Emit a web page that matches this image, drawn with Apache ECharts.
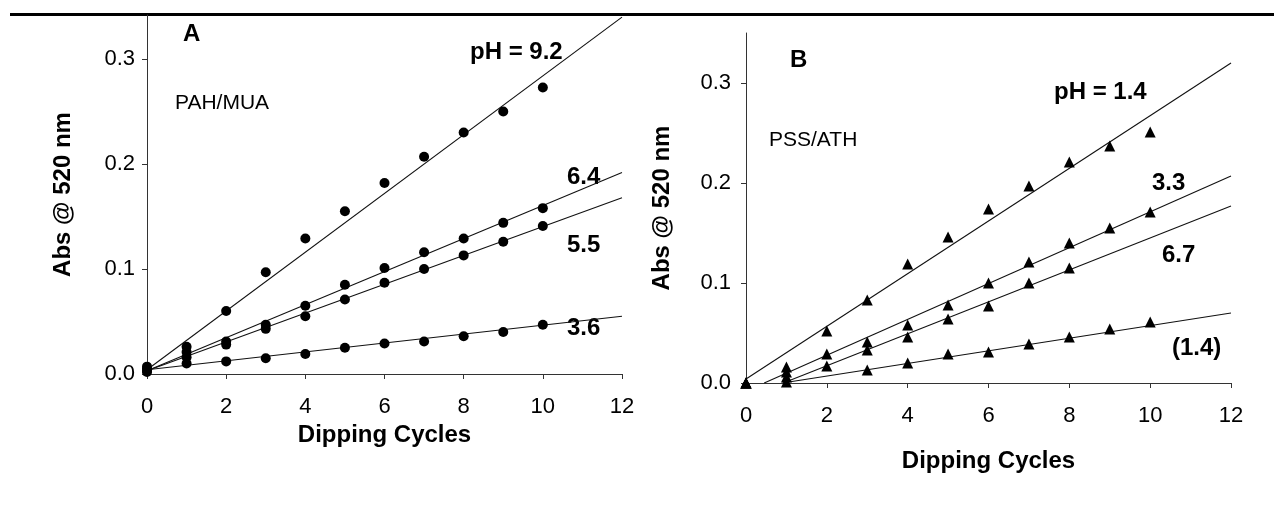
<!DOCTYPE html>
<html>
<head>
<meta charset="utf-8">
<script src="https://cdn.jsdelivr.net/npm/echarts@6/dist/echarts.min.js"></script>
<style>
  html, body { margin: 0; padding: 0; background: #fff; }
  #chart { width: 1274px; height: 520px; }
</style>
</head>
<body>
<div id="chart"></div>
<script>
// panel A: PAH/MUA, circles
const cycles = [0, 1, 2, 3, 4, 5, 6, 7, 8, 9, 10]
const absA92 = [0.007, 0.026, 0.060, 0.097, 0.129, 0.155, 0.182, 0.207, 0.230, 0.250, 0.273]
const absA64 = [0.005, 0.021, 0.031, 0.047, 0.065, 0.085, 0.101, 0.116, 0.129, 0.144, 0.158]
const absA55 = [0.003, 0.016, 0.028, 0.043, 0.055, 0.071, 0.087, 0.100, 0.113, 0.126, 0.141]
const absA36 = [0.002, 0.010, 0.012, 0.015, 0.019, 0.025, 0.029, 0.031, 0.036, 0.040, 0.047]
// fitted lines, end points
const fitA92 = [[0, 0.004], [12, 0.340]]
const fitA64 = [[0, 0.003], [12, 0.192]]
const fitA55 = [[0, 0.003], [12, 0.168]]
const fitA36 = [[0, 0.004], [12, 0.055]]

// panel B: PSS/ATH, triangles (null = no point)
const absB14 = [0.000, 0.016, 0.052, 0.083, 0.119, 0.146, 0.174, 0.197, 0.221, 0.237, 0.251]
const absB33 = [0.000, 0.011, 0.029, 0.041, 0.058, 0.078, 0.100, 0.121, 0.140, 0.155, 0.171]
const absB67 = [0.000, 0.006, 0.017, 0.033, 0.046, 0.064, 0.077, 0.100, 0.115, null, null]
const absB14b = [0.000, 0.001, null, 0.013, 0.020, 0.029, 0.031, 0.039, 0.046, 0.054, 0.061]
const fitB14 = [[0, 0.004], [12, 0.320]]
const fitB33 = [[0.45, 0], [12, 0.207]]
const fitB67 = [[0.92, 0], [12, 0.177]]
const fitB14b = [[0.9, 0], [12, 0.070]]

const yTicks = [0, 0.1, 0.2, 0.3]
const yMaxA = 0.342
const yMaxB = 0.35

const FONT = '"Liberation Sans", Arial, sans-serif'
const pairs = (ys) => cycles.map((x, i) => [x, ys[i]]).filter(p => p[1] !== null)

const xAxisOf = (gi, gap) => ({
  type: 'value', gridIndex: gi, min: 0, max: 12, interval: 2,
  name: 'Dipping Cycles', nameLocation: 'middle', nameGap: gap,
  nameTextStyle: { fontFamily: FONT, fontWeight: 'bold', fontSize: 24, color: '#000' },
  axisLine: { lineStyle: { color: '#333', width: 1 } },
  axisTick: { inside: false, length: 5, lineStyle: { color: '#333' } },
  axisLabel: { fontFamily: FONT, fontSize: 22, color: '#000', margin: 22 },
  splitLine: { show: false }
})
const yAxisOf = (gi, max, margin) => ({
  type: 'value', gridIndex: gi, min: 0, max: max,
  name: 'Abs @ 520 nm', nameLocation: 'middle', nameGap: 72, nameRotate: 90,
  nameTextStyle: { fontFamily: FONT, fontWeight: 'bold', fontSize: 24, color: '#000' },
  axisLine: { show: true, lineStyle: { color: '#333', width: 1 } },
  axisTick: { show: true, length: 5, customValues: yTicks, lineStyle: { color: '#333' } },
  axisLabel: {
    fontFamily: FONT, fontSize: 22, color: '#000', margin: margin,
    customValues: yTicks, formatter: v => v.toFixed(1)
  },
  splitLine: { show: false }
})

const dots = (name, xi, ys, symbol, size) => ({
  name, type: 'scatter', xAxisIndex: xi, yAxisIndex: xi,
  data: pairs(ys), symbol, symbolSize: size,
  itemStyle: { color: '#000', opacity: 1 }, z: 3
})
const fit = (name, xi, pts) => ({
  name, type: 'line', xAxisIndex: xi, yAxisIndex: xi,
  data: pts, symbol: 'none', silent: true,
  lineStyle: { color: '#111', width: 1.1 }, z: 2
})

const txt = (x, y, text, bold, size) => ({
  type: 'text', x, y,
  style: {
    text, fill: '#000',
    font: (bold ? 'bold ' : '') + size + 'px ' + FONT,
    textAlign: 'left', textVerticalAlign: 'middle',
    align: 'left', verticalAlign: 'middle'
  }
})

const myChart = echarts.init(document.getElementById('chart'), null, { renderer: 'canvas' })
const option = {
  backgroundColor: '#fff',
  animation: false,
  grid: [
    { left: 147, top: 15, width: 475, height: 359, outerBoundsMode: 'none' },
    { left: 746, top: 33, width: 485, height: 350, outerBoundsMode: 'none' }
  ],
  xAxis: [xAxisOf(0, 48), xAxisOf(1, 66)],
  yAxis: [yAxisOf(0, yMaxA, 12), yAxisOf(1, yMaxB, 15)],
  graphic: [
    { type: 'rect', shape: { x: 10, y: 13, width: 1264, height: 3 }, style: { fill: '#000' } },
    txt(183, 34, 'A', true, 24),
    txt(175, 103, 'PAH/MUA', false, 21),
    txt(470, 52, 'pH = 9.2', true, 24),
    txt(567, 177, '6.4', true, 24),
    txt(567, 245, '5.5', true, 24),
    txt(567, 328, '3.6', true, 24),
    txt(790, 60, 'B', true, 24),
    txt(769, 140, 'PSS/ATH', false, 21),
    txt(1054, 92, 'pH = 1.4', true, 24),
    txt(1152, 183, '3.3', true, 24),
    txt(1162, 255, '6.7', true, 24),
    txt(1172, 348, '(1.4)', true, 24)
  ],
  series: [
    fit('fit 9.2', 0, fitA92), fit('fit 6.4', 0, fitA64),
    fit('fit 5.5', 0, fitA55), fit('fit 3.6', 0, fitA36),
    dots('pH 9.2', 0, absA92, 'circle', 10), dots('pH 6.4', 0, absA64, 'circle', 10),
    dots('pH 5.5', 0, absA55, 'circle', 10), dots('pH 3.6', 0, absA36, 'circle', 10),
    fit('fit 1.4', 1, fitB14), fit('fit 3.3', 1, fitB33),
    fit('fit 6.7', 1, fitB67), fit('fit (1.4)', 1, fitB14b),
    dots('pH 1.4', 1, absB14, 'triangle', 11), dots('pH 3.3', 1, absB33, 'triangle', 11),
    dots('pH 6.7', 1, absB67, 'triangle', 11), dots('(1.4)', 1, absB14b, 'triangle', 11)
  ]
}
myChart.setOption(option)
window.addEventListener('resize', () => {
  myChart.resize()
})
</script>
</body>
</html>
